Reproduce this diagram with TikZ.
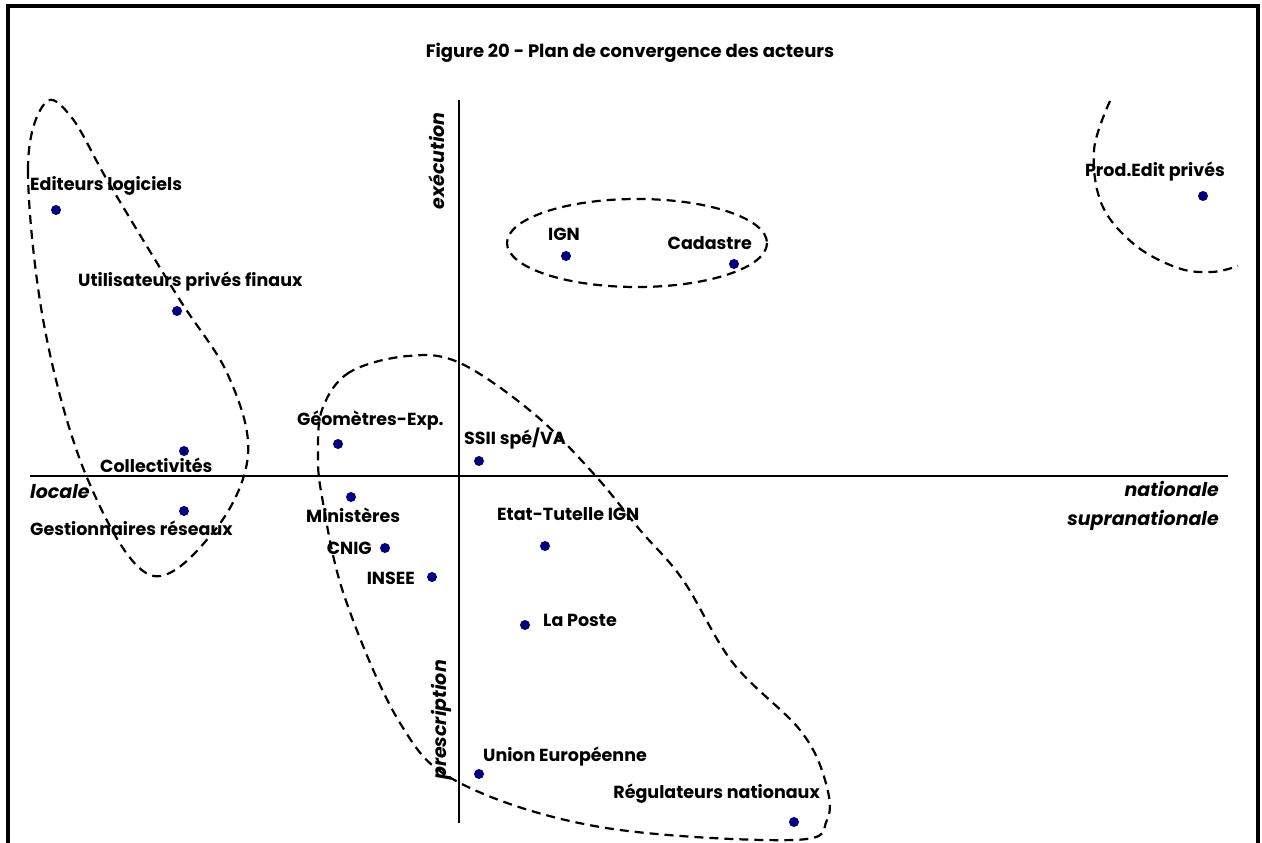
\documentclass[tikz,border=0pt]{standalone}
\usepackage{fontspec}
\setmainfont{Poppins}
\definecolor{dotblue}{RGB}{0,0,128}
\begin{document}
\begin{tikzpicture}[x=1pt,y=-1pt,
  dot/.style={circle,fill=dotblue,inner sep=0pt,minimum size=10pt},
  lab/.style={font=\bfseries\fontsize{17.5}{20}\selectfont,inner sep=0pt,anchor=west},
  axlab/.style={font=\itshape\bfseries\fontsize{19}{22}\selectfont,inner sep=0pt},
  grp/.style={dash pattern=on 9pt off 6pt,line width=2.2pt},
  axis/.style={line width=1.5pt}]
\useasboundingbox (0,0) rectangle (1262,843);
% frame
\draw[line width=3.2pt] (8,860) -- (8,6) -- (1258,6) -- (1258,860);
% title
\node[font=\bfseries\fontsize{18}{21}\selectfont,inner sep=0pt] (title) at (630,53) {Figure 20 - Plan de convergence des acteurs};
% axes
\coordinate (vtop) at (459,100);
\coordinate (vbot) at (459,823);
\coordinate (hl) at (30,476);
\coordinate (hr) at (1228,476);
\draw[axis] (vtop) -- (vbot);
\draw[axis] (hl) -- (hr);
% axis labels
\node[axlab,rotate=90] (exec) at (437,161) {exécution};
\node[axlab,rotate=90] (presc) at (441,720) {prescription};
\node[axlab,anchor=west] (locale) at (30,492) {locale};
\node[axlab,anchor=east] (nat) at (1219,489) {nationale};
\node[axlab,anchor=east] (supra) at (1219,520) {supranationale};
% dots
\node[dot] (edit) at (56,210) {};
\node[dot] (util) at (177,311) {};
\node[dot] (coll) at (184,451) {};
\node[dot] (gest) at (184,511) {};
\node[dot] (geom) at (338,444) {};
\node[dot] (ssii) at (479,461) {};
\node[dot] (mini) at (351,497) {};
\node[dot] (cnig) at (385,548) {};
\node[dot] (insee) at (432,577) {};
\node[dot] (etat) at (545,546) {};
\node[dot] (poste) at (525,625) {};
\node[dot] (ue) at (479,774) {};
\node[dot] (regu) at (794,822) {};
\node[dot] (ign) at (566,256) {};
\node[dot] (cad) at (734,264) {};
\node[dot] (prod) at (1203,196) {};
% labels
\node[lab] (edit-l) at (30,186) {Editeurs logiciels};
\node[lab] (util-l) at (78,282) {Utilisateurs privés finaux};
\node[lab] (coll-l) at (100,465) {Collectivités};
\node[lab] (gest-l) at (30,528) {Gestionnaires réseaux};
\node[lab] (geom-l) at (297,421) {Géomètres-Exp.};
\node[lab] (ssii-l) at (464,439) {SSII spé/VA};
\node[lab] (mini-l) at (306,515) {Ministères};
\node[lab,anchor=east] (cnig-l) at (372,548) {CNIG};
\node[lab,anchor=east] (insee-l) at (415,578) {INSEE};
\node[lab] (etat-l) at (497,514) {Etat-Tutelle IGN};
\node[lab] (poste-l) at (543,620) {La Poste};
\node[lab] (ue-l) at (483,757) {Union Européenne};
\node[lab,anchor=east] (regu-l) at (820,794) {Régulateurs nationaux};
\node[lab] (ign-l) at (548,234) {IGN};
\node[lab,anchor=east] (cad-l) at (752,243) {Cadastre};
\node[lab,anchor=east] (prod-l) at (1225,172) {Prod.Edit privés};
% groups
\draw[grp] (637,243) ellipse [x radius=130,y radius=44];
\draw[grp] plot[smooth cycle,tension=0.6] coordinates {(45,103) (28,170) (45,330) (88,480) (150,575) (215,530) (248,455) (228,375) (178,297) (110,185) (72,118)};
\draw[grp] plot[smooth cycle,tension=0.6] coordinates {(408,356) (350,372) (323,407) (318,450) (322,497) (345,598) (400,723) (460,783) (600,827) (793,840) (827,820) (825,780) (800,730) (733,663) (683,580) (640,530) (593,473) (533,413) (460,363)};
\draw[grp] plot[smooth,tension=0.6] coordinates {(1110,101) (1094,150) (1102,205) (1135,245) (1178,268) (1212,272) (1238,266)};
\end{tikzpicture}
\end{document}
